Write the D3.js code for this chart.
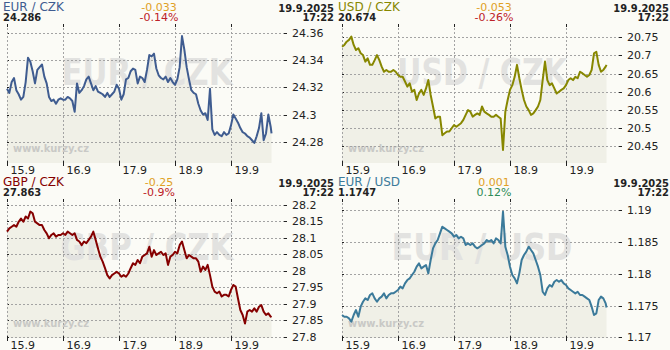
<!DOCTYPE html>
<html><head><meta charset="utf-8">
<script src="https://cdn.jsdelivr.net/npm/d3@7"></script>
<style>body{margin:0;background:#fbfbf6}svg{display:block}</style>
</head><body><svg id="c" width="670" height="350"></svg>
<script>
// hours since 15.9 00:00 (hourly samples, last one at 17:22 on 19.9)
const hours = d3.range(0, 114).concat([113.37]);

const eurCzk = [24.319,24.316,24.324,24.327,24.318,24.315,24.311,24.313,24.324,24.342,
24.339,24.332,24.323,24.333,24.335,24.337,24.328,24.323,24.313,24.310,
24.311,24.308,24.311,24.312,24.311,24.311,24.313,24.312,24.310,24.302,
24.323,24.316,24.318,24.321,24.326,24.328,24.323,24.318,24.321,24.317,
24.316,24.315,24.313,24.316,24.313,24.315,24.317,24.322,24.319,24.311,
24.315,24.326,24.327,24.332,24.334,24.333,24.323,24.328,24.327,24.324,
24.333,24.344,24.343,24.345,24.334,24.329,24.327,24.326,24.328,24.324,
24.327,24.324,24.322,24.326,24.335,24.358,24.348,24.335,24.326,24.318,
24.316,24.315,24.308,24.303,24.300,24.301,24.296,24.319,24.289,24.285,
24.287,24.285,24.284,24.287,24.285,24.286,24.292,24.300,24.297,24.294,
24.290,24.287,24.286,24.284,24.283,24.281,24.279,24.284,24.290,24.301,
24.281,24.286,24.300,24.291,24.286];

const usdCzk = [20.724,20.729,20.738,20.743,20.752,20.729,20.715,20.720,20.706,20.701,
20.683,20.692,20.674,20.674,20.687,20.701,20.687,20.669,20.655,20.660,
20.655,20.655,20.660,20.655,20.646,20.641,20.641,20.628,20.614,20.623,
20.600,20.605,20.577,20.595,20.605,20.591,20.609,20.632,20.591,20.559,
20.526,20.531,20.531,20.480,20.485,20.490,20.490,20.499,20.508,20.503,
20.508,20.513,20.522,20.536,20.549,20.545,20.531,20.536,20.540,20.536,
20.559,20.545,20.540,20.536,20.531,20.531,20.536,20.531,20.526,20.439,
20.545,20.577,20.605,20.618,20.641,20.674,20.637,20.605,20.577,20.559,
20.549,20.536,20.540,20.549,20.559,20.577,20.632,20.683,20.632,20.618,
20.623,20.609,20.595,20.600,20.605,20.609,20.618,20.632,20.637,20.632,
20.641,20.637,20.655,20.651,20.646,20.641,20.646,20.660,20.706,20.710,
20.674,20.655,20.660,20.669,20.674];

const gbpCzk = [28.119,28.129,28.134,28.139,28.134,28.149,28.159,28.149,28.165,28.159,
28.180,28.175,28.149,28.144,28.139,28.139,28.124,28.114,28.099,28.109,
28.114,28.104,28.109,28.109,28.114,28.109,28.119,28.114,28.109,28.114,
28.094,28.089,28.078,28.089,28.084,28.094,28.104,28.119,28.094,28.068,
28.043,28.028,28.008,27.987,27.977,27.987,27.992,27.997,27.992,27.982,
27.987,27.982,27.992,28.008,28.023,28.018,28.033,28.023,28.043,28.048,
28.053,28.073,28.043,28.063,28.048,28.053,28.058,28.048,28.053,28.018,
28.043,28.048,28.058,28.053,28.078,28.089,28.063,28.038,28.048,28.043,
28.038,28.038,28.028,27.997,28.013,28.003,28.018,27.987,27.952,27.937,
27.932,27.937,27.922,27.927,27.927,27.922,27.942,27.957,27.952,27.916,
27.881,27.866,27.840,27.876,27.881,27.876,27.886,27.876,27.891,27.896,
27.876,27.866,27.871,27.861,27.863];

const eurUsd = [1.17351,1.17324,1.17324,1.17298,1.17246,1.17351,1.17429,1.17324,1.17482,1.17560,
1.17612,1.17586,1.17665,1.17691,1.17612,1.17560,1.17612,1.17639,1.17691,1.17612,
1.17665,1.17691,1.17691,1.17717,1.17743,1.17796,1.17770,1.17848,1.17900,1.17927,
1.17979,1.18031,1.18110,1.18162,1.18084,1.18110,1.18136,1.18005,1.18215,1.18398,
1.18476,1.18529,1.18633,1.18738,1.18712,1.18686,1.18660,1.18633,1.18581,1.18607,
1.18555,1.18581,1.18555,1.18450,1.18476,1.18450,1.18476,1.18424,1.18398,1.18424,
1.18450,1.18476,1.18529,1.18503,1.18529,1.18476,1.18555,1.18529,1.18476,1.18974,
1.18424,1.18293,1.18110,1.17979,1.17927,1.17848,1.18005,1.18215,1.18293,1.18346,
1.18424,1.18372,1.18319,1.18215,1.18110,1.17979,1.17717,1.17665,1.17770,1.17822,
1.17796,1.17874,1.17900,1.17874,1.17900,1.17848,1.17822,1.17770,1.17743,1.17717,
1.17691,1.17717,1.17665,1.17665,1.17639,1.17612,1.17586,1.17482,1.17351,1.17377,
1.17586,1.17639,1.17612,1.17534,1.17470];

const pairs = ["EUR / CZK", "USD / CZK", "GBP / CZK", "EUR / USD"];
const lastValues = ["24.286", "20.674", "27.863", "1.1747"];
const changes = ["-0.033", "-0.053", "-0.25", "0.001"];
const changePct = ["-0.14%", "-0.26%", "-0.9%", "0.12%"];
const dateLabel = "19.9.2025";
const timeLabel = "17:22";
const dayLabels = ["15.9", "16.9", "17.9", "18.9", "19.9"];
const dayHours = [0, 24, 48, 72, 96];
const eurCzkTicks = [24.28, 24.3, 24.32, 24.34, 24.36];
const usdCzkTicks = [20.45, 20.5, 20.55, 20.6, 20.65, 20.7, 20.75];
const gbpCzkTicks = [27.8, 27.85, 27.9, 27.95, 28, 28.05, 28.1, 28.15, 28.2];
const eurUsdTicks = [1.17, 1.175, 1.18, 1.185, 1.19];
const yDomains = [[24.2642, 24.3669], [20.4031, 20.7868], [27.796, 28.2182], [1.1699, 1.19173]];

const seriesList = [eurCzk, usdCzk, gbpCzk, eurUsd];
const tickList = [eurCzkTicks, usdCzkTicks, gbpCzkTicks, eurUsdTicks];
const lineColors = ["#3f5c90", "#878700", "#850000", "#3b7a9a"];
const wmWidths = [171, 170, 173, 181];

const svg = d3.select("#c");
svg.append("rect").attr("width", 670).attr("height", 350).attr("fill", "#fbfbf6");

const PW = 335, PH = 175;
const pLeft = 7, pRight = 287, pTop = 24, pBottom = 163;
const x = d3.scaleLinear().domain([0, 120]).range([pLeft, pRight]);
const FONT = "DejaVu Sans, Verdana, sans-serif";
const BFONT = "'DejaVu Sans Condensed', 'DejaVu Sans', sans-serif";

seriesList.forEach((vals, i) => {
  const g = svg.append("g").attr("transform", `translate(${(i % 2) * PW},${Math.floor(i / 2) * PH})`);
  const y = d3.scaleLinear().domain(yDomains[i]).range([pBottom, pTop]);
  const data = hours.map((h, k) => [h, vals[k]]);

  g.append("path").datum(data)
    .attr("d", d3.area().x(d => x(d[0])).y0(pBottom).y1(d => y(d[1])))
    .attr("fill", "#f0f0e7");

  g.append("text").attr("x", (pLeft + pRight) / 2).attr("y", 85)
    .attr("text-anchor", "middle").attr("font-family", FONT).attr("font-weight", "bold")
    .attr("font-size", 38).attr("fill", "#e2e2e0")
    .attr("textLength", wmWidths[i]).attr("lengthAdjust", "spacingAndGlyphs")
    .text(pairs[i]);
  g.append("text").attr("x", 13).attr("y", 152)
    .attr("font-family", FONT).attr("font-weight", "bold")
    .attr("font-size", 10).attr("fill", "#c9c9c6")
    .attr("textLength", 76).attr("lengthAdjust", "spacingAndGlyphs")
    .text("www.kurzy.cz");

  tickList[i].forEach(t => {
    const yy = Math.round(y(t)) + 0.5;
    g.append("line").attr("x1", pLeft).attr("x2", 284).attr("y1", yy).attr("y2", yy)
      .attr("stroke", "#a3a3a3").attr("stroke-dasharray", "2,2");
    g.append("line").attr("x1", 284).attr("x2", 287).attr("y1", yy).attr("y2", yy).attr("stroke", "#222");
    g.append("line").attr("x1", pLeft).attr("x2", pLeft + 2).attr("y1", yy).attr("y2", yy).attr("stroke", "#222");
    g.append("text").attr("x", 292).attr("y", y(t) + 4)
      .attr("font-family", FONT).attr("font-size", 11).attr("fill", "#222")
      .text(String(t));
  });

  dayHours.forEach((h, k) => {
    const xx = Math.round(x(h)) + 0.5;
    g.append("line").attr("x1", xx).attr("x2", xx).attr("y1", pTop).attr("y2", pBottom)
      .attr("stroke", "#a3a3a3").attr("stroke-dasharray", "2,2");
    g.append("line").attr("x1", xx).attr("x2", xx).attr("y1", pTop).attr("y2", pTop + 3).attr("stroke", "#222");
    g.append("line").attr("x1", xx).attr("x2", xx).attr("y1", pBottom - 2).attr("y2", pBottom + 3).attr("stroke", "#222");
    g.append("text").attr("x", x(h) + 3.5).attr("y", 173.5)
      .attr("font-family", FONT).attr("font-size", 11).attr("fill", "#222")
      .text(dayLabels[k]);
  });

  g.append("path").datum(data)
    .attr("d", d3.line().x(d => x(d[0])).y(d => y(d[1])))
    .attr("fill", "none").attr("stroke", lineColors[i]).attr("stroke-width", 2)
    .attr("stroke-linejoin", "round");

  g.append("text").attr("x", 3).attr("y", 11).attr("font-family", FONT).attr("font-size", 12)
    .attr("fill", lineColors[i]).text(pairs[i]);
  g.append("text").attr("x", 3).attr("y", 20.5).attr("font-family", BFONT).attr("font-weight", "bold")
    .attr("font-stretch", "condensed").attr("font-size", 11).attr("fill", "#222").text(lastValues[i]);
  g.append("text").attr("x", 159).attr("y", 10.5).attr("text-anchor", "middle")
    .attr("font-family", FONT).attr("font-size", 11).attr("fill", "#e0a125").text(changes[i]);
  const neg = changePct[i].startsWith("-");
  g.append("text").attr("x", 159).attr("y", 20.5).attr("text-anchor", "middle")
    .attr("font-family", FONT).attr("font-size", 11).attr("fill", neg ? "#bd2229" : "#2e8b57").text(changePct[i]);
  g.append("text").attr("x", 334).attr("y", 11.5).attr("text-anchor", "end")
    .attr("font-family", BFONT).attr("font-weight", "bold").attr("font-stretch", "condensed")
    .attr("font-size", 11).attr("fill", "#222").text(dateLabel);
  g.append("text").attr("x", 334).attr("y", 20.5).attr("text-anchor", "end")
    .attr("font-family", BFONT).attr("font-weight", "bold").attr("font-stretch", "condensed")
    .attr("font-size", 11).attr("fill", "#222").text(timeLabel);
});
</script></body></html>
